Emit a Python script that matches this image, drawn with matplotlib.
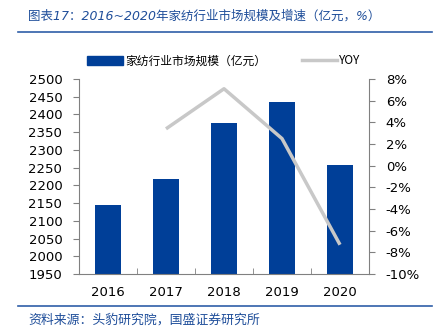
import matplotlib
matplotlib.use("Agg")
import matplotlib.pyplot as plt
from matplotlib.lines import Line2D
from matplotlib.ticker import FuncFormatter

plt.rcParams['font.family'] = ['DejaVu Sans', 'Noto Sans CJK SC']

years = ['2016', '2017', '2018', '2019', '2020']
market = [2145, 2218, 2376, 2436, 2258]
yoy = [None, 3.4, 7.1, 2.5, -7.3]
title = '图表17：2016~2020年家纺行业市场规模及增速（亿元，%）'
source = '资料来源：头豹研究院，国盛证券研究所'
bar_label = '家纺行业市场规模（亿元）'
line_label = 'YOY'

W, H = 436, 334
fig = plt.figure(figsize=(W/100, H/100), dpi=100)
ax = fig.add_axes([79/W, 1-274/H, (369-79)/W, (274-79)/H])
x = list(range(len(years)))
ax.bar(x, market, width=0.45, color='#003F98')
ax.set_ylim(1950, 2500)
ax.set_yticks(range(1950, 2501, 50))
ax.set_xlim(-0.5, 4.5)
ax.set_xticks(x)
ax.set_xticklabels(years)
for s in ['top', 'right']:
    ax.spines[s].set_visible(False)
ax.spines['left'].set_color('#808080')
ax.spines['bottom'].set_color('#808080')
ax.tick_params(axis='y', length=4, color='#808080', labelsize=9.5, pad=8)
ax.tick_params(axis='x', length=0, labelsize=9.5, pad=9)
ax.set_xticks([i + 0.5 for i in range(-1, 5)], minor=True)
ax.tick_params(axis='x', which='minor', length=4, color='#808080', direction='in')

ax2 = ax.twinx()
xs = [xi for xi, v in zip(x, yoy) if v is not None]
ys = [v for v in yoy if v is not None]
ax2.plot(xs, ys, color='#C8C8C8', lw=2.5, solid_capstyle='butt')
ax2.set_ylim(-10, 8)
ax2.set_yticks(range(-10, 9, 2))
ax2.yaxis.set_major_formatter(FuncFormatter(lambda v, p: f'{int(v)}%'))
for s in ['top', 'left', 'bottom']:
    ax2.spines[s].set_visible(False)
ax2.spines['right'].set_color('#808080')
ax2.tick_params(axis='y', length=4, color='#808080', labelsize=9.5, pad=8)

handles = [plt.Rectangle((0, 0), 1, 1, color='#003F98'),
           Line2D([0], [0], color='#C8C8C8', lw=2.5)]
fig.legend(handles, [bar_label, line_label], loc='center', bbox_to_anchor=(224/W, 1-61/H),
           ncol=2, frameon=False, handlelength=3.0, handleheight=0.9,
           columnspacing=3.0, handletextpad=0.2,
           prop={'family': ['Noto Sans CJK SC', 'DejaVu Sans'], 'size': 8.5})

fig.text(28/W, 1-16/H, title, color='#1F4E9A', fontsize=9, style='italic', va='center',
         family=['DejaVu Sans', 'Noto Sans CJK SC'])
fig.add_artist(Line2D([18/W, 432/W], [1-32/H, 1-32/H], color='#2F5FA8', lw=1.2))
fig.add_artist(Line2D([18/W, 432/W], [1-306/H, 1-306/H], color='#2F5FA8', lw=1.2))
fig.text(28/W, 1-320/H, source, color='#1F4E9A', fontsize=9.3, style='italic', va='center',
         family=['Noto Sans CJK SC', 'DejaVu Sans'])

fig.savefig('out.png', dpi=100)
